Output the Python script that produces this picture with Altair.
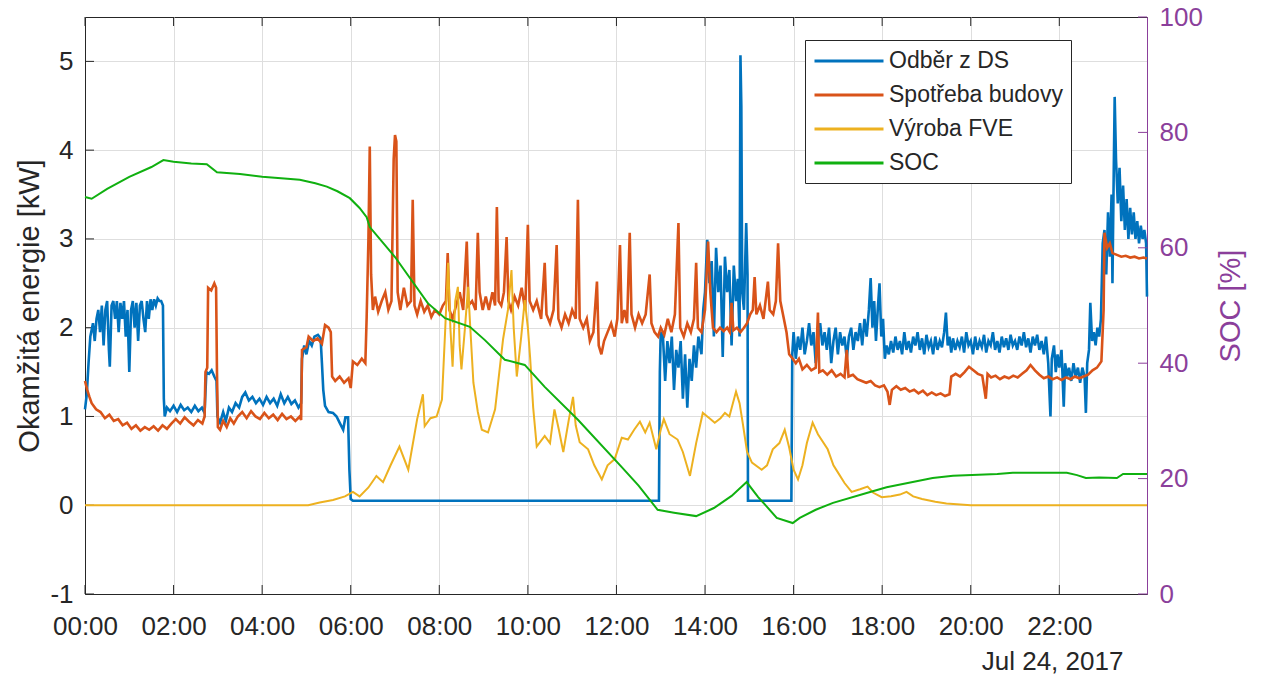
import altair as alt
import pandas as pd

FONT = "Liberation Sans"
DARK = "#262626"
PURPLE = "#8B3F9B"
GRID = "#DEDEDE"

series_names = ["Odběr z DS", "Spotřeba budovy", "Výroba FVE", "SOC"]
series_colors = ["#0072BD", "#D95319", "#EDB120", "#10B010"]

# (hour, kW)
odber = [
    (0.00, 1.08), (0.04, 1.25), (0.08, 1.60), (0.12, 1.90), (0.18, 2.05), (0.22, 1.85), (0.26, 2.10),
    (0.30, 2.20), (0.34, 1.95), (0.38, 2.25), (0.42, 1.80), (0.46, 2.20), (0.50, 2.30), (0.54, 1.75),
    (0.56, 1.56), (0.60, 2.25), (0.64, 2.30), (0.68, 2.10), (0.72, 2.30), (0.76, 1.95), (0.80, 2.28),
    (0.84, 2.10), (0.88, 2.30), (0.92, 1.90), (0.96, 2.20), (1.00, 1.50), (1.04, 2.20), (1.08, 2.30),
    (1.12, 2.00), (1.16, 2.28), (1.20, 1.85), (1.24, 2.25), (1.28, 2.30), (1.32, 2.10), (1.36, 1.95),
    (1.40, 2.30), (1.44, 2.10), (1.48, 2.32), (1.52, 2.20), (1.56, 2.32), (1.60, 2.25), (1.64, 2.33),
    (1.68, 2.30), (1.72, 2.30), (1.76, 2.25), (1.78, 1.20), (1.80, 1.00), (1.85, 1.10), (1.92, 1.06),
    (2.00, 1.12), (2.08, 1.05), (2.16, 1.13), (2.24, 1.07), (2.32, 1.10), (2.40, 1.05), (2.48, 1.12),
    (2.56, 1.06), (2.64, 1.10), (2.70, 1.04), (2.74, 1.50), (2.80, 1.48), (2.86, 1.52), (2.92, 1.45),
    (2.97, 1.40), (2.99, 1.00), (3.05, 0.93), (3.12, 1.05), (3.18, 0.95), (3.25, 1.10), (3.32, 1.05),
    (3.40, 1.15), (3.48, 1.10), (3.55, 1.22), (3.62, 1.27), (3.70, 1.18), (3.78, 1.22), (3.86, 1.15),
    (3.94, 1.20), (4.02, 1.13), (4.10, 1.22), (4.18, 1.15), (4.26, 1.20), (4.34, 1.12), (4.42, 1.25),
    (4.50, 1.15), (4.58, 1.22), (4.66, 1.14), (4.74, 1.18), (4.82, 1.10), (4.88, 1.15), (4.90, 1.65),
    (4.95, 1.80), (5.00, 1.70), (5.06, 1.85), (5.12, 1.80), (5.18, 1.90), (5.26, 1.92), (5.32, 1.88),
    (5.35, 1.60), (5.38, 1.30), (5.42, 1.12), (5.50, 1.05), (5.60, 1.04), (5.68, 1.00), (5.76, 0.92),
    (5.83, 0.85), (5.88, 0.99), (5.94, 0.99), (5.97, 0.40), (6.00, 0.07), (6.05, 0.05), (12.96, 0.05),
    (12.98, 1.50), (13.00, 1.95), (13.05, 1.90), (13.10, 1.40), (13.15, 1.85), (13.20, 1.60), (13.25, 1.90),
    (13.30, 1.30), (13.35, 1.75), (13.40, 1.55), (13.45, 1.85), (13.50, 1.20), (13.55, 1.70), (13.60, 1.10),
    (13.65, 1.65), (13.70, 1.40), (13.75, 1.80), (13.80, 1.55), (13.85, 1.90), (13.92, 1.70), (13.96, 2.20),
    (14.00, 2.40), (14.05, 2.99), (14.10, 2.50), (14.15, 2.75), (14.20, 1.90), (14.25, 2.90), (14.30, 2.40),
    (14.35, 2.70), (14.40, 1.67), (14.45, 2.80), (14.50, 2.40), (14.55, 2.65), (14.60, 1.80), (14.65, 2.70),
    (14.70, 2.30), (14.74, 2.55), (14.78, 1.90), (14.80, 5.07), (14.82, 4.50), (14.84, 2.40), (14.88, 2.20),
    (14.93, 3.18), (14.96, 2.60), (14.97, 0.05), (15.95, 0.05), (15.97, 1.70), (16.00, 1.95), (16.05, 1.65),
    (16.10, 1.90), (16.15, 1.75), (16.20, 2.00), (16.25, 1.70), (16.30, 1.85), (16.35, 2.05), (16.40, 1.80),
    (16.45, 1.95), (16.50, 1.60), (16.55, 1.85), (16.60, 2.05), (16.65, 1.80), (16.70, 1.95), (16.75, 1.75),
    (16.80, 2.00), (16.85, 1.60), (16.90, 1.85), (16.95, 2.00), (17.00, 1.70), (17.05, 1.95), (17.10, 1.80),
    (17.15, 1.90), (17.20, 1.65), (17.25, 1.90), (17.30, 2.00), (17.35, 1.75), (17.40, 1.95), (17.45, 1.85),
    (17.50, 2.05), (17.55, 1.80), (17.60, 2.10), (17.65, 1.90), (17.70, 2.20), (17.74, 2.56), (17.78, 2.00),
    (17.82, 2.30), (17.86, 1.85), (17.90, 2.20), (17.94, 2.50), (17.98, 1.90), (18.02, 2.10), (18.06, 1.65),
    (18.10, 1.80), (18.15, 1.70), (18.20, 1.85), (18.25, 1.72), (18.30, 1.90), (18.35, 1.75), (18.40, 1.85),
    (18.45, 1.70), (18.50, 1.95), (18.55, 1.75), (18.60, 1.85), (18.65, 1.72), (18.70, 1.90), (18.75, 1.80),
    (18.80, 1.95), (18.85, 1.75), (18.90, 1.88), (18.95, 1.70), (19.00, 1.92), (19.05, 1.78), (19.10, 1.85),
    (19.15, 1.70), (19.20, 1.90), (19.25, 1.75), (19.30, 1.85), (19.35, 1.78), (19.40, 1.95), (19.44, 2.17),
    (19.48, 1.80), (19.52, 1.90), (19.56, 1.72), (19.60, 1.88), (19.65, 1.75), (19.70, 1.85), (19.75, 1.78),
    (19.80, 1.90), (19.85, 1.72), (19.90, 1.95), (19.95, 1.80), (20.00, 1.85), (20.05, 1.70), (20.10, 1.90),
    (20.15, 1.75), (20.20, 1.85), (20.25, 1.78), (20.30, 1.92), (20.35, 1.72), (20.40, 1.85), (20.45, 1.80),
    (20.50, 1.95), (20.55, 1.75), (20.60, 1.85), (20.65, 1.72), (20.70, 1.90), (20.75, 1.78), (20.80, 1.88),
    (20.85, 1.75), (20.90, 1.92), (20.95, 1.80), (21.00, 1.85), (21.05, 1.75), (21.10, 1.90), (21.15, 1.80),
    (21.20, 1.95), (21.25, 1.78), (21.30, 1.88), (21.35, 1.72), (21.40, 1.90), (21.45, 1.80), (21.50, 1.92),
    (21.55, 1.75), (21.60, 1.85), (21.65, 1.70), (21.70, 1.90), (21.75, 1.60), (21.80, 1.00), (21.83, 1.65),
    (21.88, 1.80), (21.92, 1.50), (21.96, 1.70), (22.00, 1.55), (22.05, 1.75), (22.10, 1.11), (22.13, 1.60),
    (22.18, 1.45), (22.22, 1.55), (22.27, 1.40), (22.32, 1.60), (22.37, 1.45), (22.42, 1.55), (22.47, 1.38),
    (22.52, 1.55), (22.57, 1.45), (22.60, 1.04), (22.63, 1.60), (22.67, 1.75), (22.70, 2.28), (22.74, 1.85),
    (22.78, 1.95), (22.82, 1.80), (22.86, 2.00), (22.90, 1.90), (22.94, 2.10), (22.98, 2.95), (23.02, 3.10),
    (23.06, 2.60), (23.10, 3.30), (23.14, 2.80), (23.18, 3.50), (23.20, 2.50), (23.23, 3.80), (23.25, 4.60),
    (23.28, 3.90), (23.32, 3.40), (23.36, 3.80), (23.40, 3.20), (23.44, 3.60), (23.48, 3.10), (23.52, 3.45),
    (23.56, 3.00), (23.60, 3.35), (23.64, 3.05), (23.68, 3.30), (23.72, 3.00), (23.76, 3.20), (23.80, 2.95),
    (23.84, 3.15), (23.88, 3.00), (23.92, 3.10), (23.96, 2.95), (23.98, 2.35),
]

spotreba = [
    (0.00, 1.40), (0.05, 1.30), (0.10, 1.22), (0.15, 1.15), (0.25, 1.08), (0.35, 1.05), (0.45, 0.98),
    (0.55, 1.02), (0.65, 0.95), (0.75, 0.97), (0.85, 0.90), (0.95, 0.93), (1.05, 0.86), (1.15, 0.90),
    (1.25, 0.84), (1.35, 0.88), (1.45, 0.85), (1.55, 0.89), (1.65, 0.84), (1.75, 0.90), (1.85, 0.86),
    (1.95, 0.92), (2.05, 0.97), (2.15, 0.92), (2.25, 0.99), (2.35, 0.94), (2.45, 0.90), (2.55, 0.96),
    (2.65, 0.92), (2.70, 1.00), (2.72, 1.50), (2.76, 1.55), (2.78, 2.45), (2.85, 2.42), (2.92, 2.50),
    (2.96, 2.45), (2.98, 1.50), (3.00, 0.88), (3.05, 0.85), (3.12, 0.95), (3.20, 0.88), (3.28, 0.98),
    (3.36, 0.92), (3.45, 1.00), (3.55, 1.05), (3.65, 0.98), (3.75, 1.06), (3.85, 1.00), (3.95, 0.97),
    (4.05, 1.04), (4.15, 0.98), (4.25, 1.02), (4.35, 0.96), (4.45, 1.03), (4.55, 0.97), (4.65, 1.00),
    (4.75, 0.95), (4.85, 1.00), (4.88, 0.96), (4.90, 1.75), (5.00, 1.78), (5.05, 1.90), (5.15, 1.85),
    (5.25, 1.88), (5.35, 1.82), (5.42, 2.03), (5.50, 2.00), (5.55, 1.95), (5.58, 1.45), (5.65, 1.40),
    (5.75, 1.45), (5.85, 1.38), (5.95, 1.43), (6.00, 1.32), (6.05, 1.62), (6.15, 1.58), (6.25, 1.65),
    (6.33, 1.60), (6.36, 2.12), (6.40, 3.00), (6.43, 4.04), (6.46, 2.60), (6.50, 2.20), (6.55, 2.35),
    (6.62, 2.18), (6.70, 2.30), (6.78, 2.40), (6.85, 2.20), (6.92, 2.30), (6.97, 3.90), (7.00, 4.17),
    (7.03, 4.10), (7.06, 2.40), (7.12, 2.20), (7.20, 2.45), (7.28, 2.25), (7.36, 2.30), (7.40, 3.44),
    (7.44, 2.25), (7.50, 2.15), (7.58, 2.30), (7.66, 2.18), (7.74, 2.25), (7.82, 2.12), (7.90, 2.20),
    (8.00, 2.15), (8.08, 2.25), (8.15, 2.30), (8.19, 2.84), (8.23, 2.20), (8.30, 2.10), (8.38, 2.25),
    (8.46, 2.40), (8.54, 2.20), (8.62, 2.97), (8.66, 2.25), (8.74, 2.30), (8.82, 2.20), (8.87, 3.07),
    (8.91, 2.40), (8.98, 2.20), (9.05, 2.35), (9.12, 2.20), (9.20, 2.40), (9.26, 2.25), (9.30, 3.36),
    (9.34, 2.30), (9.40, 2.25), (9.46, 2.40), (9.52, 3.02), (9.56, 2.30), (9.62, 2.20), (9.70, 2.35),
    (9.78, 2.25), (9.86, 2.45), (9.94, 2.20), (10.00, 3.16), (10.04, 2.30), (10.12, 2.20), (10.20, 2.30),
    (10.30, 2.10), (10.38, 2.73), (10.42, 2.15), (10.50, 2.05), (10.58, 2.20), (10.65, 2.93), (10.69, 2.10),
    (10.76, 2.00), (10.84, 2.15), (10.92, 2.05), (11.00, 2.20), (11.08, 2.10), (11.13, 3.44), (11.17, 2.10),
    (11.25, 2.00), (11.33, 2.10), (11.40, 1.85), (11.48, 1.95), (11.56, 2.52), (11.60, 1.80), (11.66, 1.70),
    (11.72, 1.85), (11.80, 1.95), (11.88, 2.05), (11.96, 1.90), (12.02, 2.10), (12.08, 2.93), (12.12, 2.05),
    (12.18, 2.20), (12.24, 2.05), (12.30, 3.07), (12.34, 2.15), (12.42, 2.00), (12.50, 2.15), (12.58, 2.05),
    (12.66, 2.15), (12.75, 2.60), (12.79, 2.05), (12.86, 1.95), (12.94, 1.90), (13.00, 2.00), (13.08, 1.92),
    (13.16, 2.10), (13.24, 1.95), (13.32, 2.15), (13.40, 3.18), (13.44, 2.00), (13.52, 1.90), (13.60, 2.05),
    (13.68, 1.95), (13.75, 2.10), (13.80, 2.73), (13.84, 2.00), (13.92, 1.95), (14.00, 2.20), (14.07, 2.97),
    (14.12, 2.40), (14.18, 2.00), (14.26, 1.95), (14.34, 2.00), (14.42, 1.96), (14.50, 2.00), (14.56, 1.95),
    (14.60, 2.28), (14.64, 1.97), (14.72, 2.00), (14.80, 1.95), (14.88, 2.00), (14.95, 2.05), (15.02, 2.15),
    (15.08, 2.20), (15.12, 2.57), (15.16, 2.15), (15.24, 2.25), (15.32, 2.10), (15.42, 2.52), (15.46, 2.20),
    (15.54, 2.15), (15.60, 2.30), (15.65, 2.95), (15.70, 2.30), (15.78, 2.10), (15.84, 1.95), (15.90, 1.70),
    (15.98, 1.65), (16.05, 1.60), (16.12, 1.65), (16.20, 1.53), (16.30, 1.58), (16.40, 1.52), (16.50, 1.55),
    (16.55, 2.17), (16.58, 1.50), (16.66, 1.52), (16.76, 1.47), (16.86, 1.52), (16.96, 1.45), (17.06, 1.48),
    (17.15, 1.44), (17.20, 1.75), (17.24, 1.45), (17.34, 1.47), (17.44, 1.42), (17.54, 1.40), (17.64, 1.38),
    (17.74, 1.40), (17.84, 1.35), (17.94, 1.33), (18.04, 1.35), (18.12, 1.28), (18.17, 1.13), (18.22, 1.30),
    (18.32, 1.34), (18.42, 1.30), (18.52, 1.32), (18.62, 1.28), (18.72, 1.30), (18.82, 1.26), (18.92, 1.29),
    (19.02, 1.24), (19.12, 1.27), (19.22, 1.24), (19.32, 1.26), (19.42, 1.23), (19.52, 1.25), (19.56, 1.45),
    (19.66, 1.48), (19.76, 1.45), (19.86, 1.50), (19.96, 1.56), (20.06, 1.52), (20.16, 1.48), (20.26, 1.46),
    (20.34, 1.20), (20.38, 1.48), (20.46, 1.44), (20.56, 1.46), (20.66, 1.42), (20.76, 1.45), (20.86, 1.43),
    (20.96, 1.46), (21.06, 1.44), (21.16, 1.48), (21.26, 1.52), (21.35, 1.58), (21.45, 1.52), (21.55, 1.47),
    (21.65, 1.43), (21.75, 1.45), (21.85, 1.42), (21.95, 1.44), (22.05, 1.41), (22.15, 1.44), (22.25, 1.42),
    (22.35, 1.45), (22.45, 1.43), (22.55, 1.45), (22.65, 1.47), (22.75, 1.52), (22.85, 1.55), (22.95, 1.62),
    (23.00, 2.20), (23.02, 3.07), (23.08, 2.90), (23.14, 2.95), (23.20, 2.84), (23.30, 2.82), (23.40, 2.80),
    (23.50, 2.81), (23.60, 2.79), (23.70, 2.80), (23.80, 2.78), (23.90, 2.79), (23.98, 2.78),
]

vyroba = [
    (0.00, 0.00), (5.04, 0.00), (5.30, 0.03), (5.60, 0.06), (5.87, 0.10), (6.05, 0.15), (6.20, 0.10),
    (6.40, 0.20), (6.58, 0.33), (6.73, 0.26), (6.90, 0.45), (7.10, 0.66), (7.30, 0.40), (7.50, 0.97),
    (7.63, 1.25), (7.67, 0.89), (7.80, 0.98), (7.94, 1.00), (8.06, 1.19), (8.13, 1.94), (8.20, 2.73),
    (8.25, 2.00), (8.30, 1.56), (8.36, 2.30), (8.42, 2.46), (8.46, 1.80), (8.50, 1.53), (8.58, 2.00),
    (8.65, 2.46), (8.70, 2.00), (8.77, 1.38), (8.87, 1.05), (8.96, 0.85), (9.10, 0.82), (9.26, 1.08),
    (9.44, 1.87), (9.55, 2.20), (9.63, 2.65), (9.68, 2.00), (9.75, 1.45), (9.85, 1.90), (9.93, 2.31),
    (10.00, 2.00), (10.05, 1.67), (10.12, 1.10), (10.20, 0.66), (10.38, 0.78), (10.50, 0.70), (10.60, 1.08),
    (10.70, 0.85), (10.80, 0.60), (10.92, 0.95), (11.02, 1.22), (11.08, 0.90), (11.17, 0.71), (11.36, 0.63),
    (11.50, 0.45), (11.67, 0.29), (11.80, 0.45), (11.96, 0.52), (12.12, 0.76), (12.26, 0.74), (12.40, 0.85),
    (12.53, 0.94), (12.65, 0.82), (12.75, 0.93), (12.90, 0.63), (13.00, 0.85), (13.07, 0.97), (13.20, 0.80),
    (13.38, 0.74), (13.50, 0.60), (13.66, 0.33), (13.80, 0.70), (13.95, 1.04), (14.10, 0.98), (14.22, 0.93),
    (14.35, 0.98), (14.45, 1.04), (14.55, 1.00), (14.70, 1.28), (14.78, 1.15), (14.85, 0.93), (14.95, 0.60),
    (15.06, 0.48), (15.28, 0.40), (15.40, 0.45), (15.53, 0.63), (15.68, 0.70), (15.80, 0.85), (15.90, 0.65),
    (16.00, 0.40), (16.10, 0.29), (16.20, 0.45), (16.30, 0.70), (16.43, 0.93), (16.55, 0.80), (16.77, 0.63),
    (16.90, 0.45), (17.00, 0.37), (17.15, 0.25), (17.31, 0.15), (17.50, 0.18), (17.67, 0.21), (17.80, 0.14),
    (17.99, 0.09), (18.20, 0.10), (18.40, 0.12), (18.55, 0.15), (18.70, 0.10), (18.90, 0.07), (19.20, 0.04),
    (19.45, 0.02), (20.00, 0.00), (23.98, 0.00),
]

# (hour, SOC %)
soc = [
    (0.00, 68.8), (0.15, 68.5), (0.50, 70.2), (1.00, 72.3), (1.50, 74.0), (1.77, 75.2), (2.00, 74.9),
    (2.40, 74.6), (2.75, 74.5), (2.98, 73.1), (3.50, 72.8), (4.00, 72.3), (4.50, 72.0), (4.85, 71.8),
    (5.20, 71.2), (5.46, 70.6), (5.70, 69.8), (5.98, 68.6), (6.20, 66.9), (6.36, 65.3), (6.43, 63.6),
    (7.00, 58.4), (7.74, 50.4), (8.13, 47.8), (8.69, 46.3), (9.03, 44.0), (9.48, 40.6), (9.93, 39.7),
    (10.38, 35.9), (11.13, 30.2), (12.12, 22.0), (12.50, 18.8), (12.93, 14.6), (13.30, 14.1), (13.80, 13.5),
    (14.20, 14.9), (14.60, 17.0), (14.94, 19.4), (15.20, 16.8), (15.40, 15.1), (15.62, 13.2), (15.98, 12.3),
    (16.14, 13.2), (16.50, 14.6), (16.89, 15.8), (17.65, 17.5), (18.10, 18.5), (19.14, 20.1), (19.60, 20.5),
    (20.60, 20.8), (20.95, 21.0), (22.17, 21.0), (22.40, 20.6), (22.60, 20.1), (22.90, 20.2), (23.30, 20.1),
    (23.44, 20.8), (23.98, 20.8),
]

x_tick_values = [0, 2, 4, 6, 8, 10, 12, 14, 16, 18, 20, 22]
kw_tick_values = [-1, 0, 1, 2, 3, 4, 5]
soc_tick_values = [0, 20, 40, 60, 80, 100]

W, H = 1062, 577


def frame(pairs, name, col):
    return pd.DataFrame({"t": [p[0] for p in pairs], col: [p[1] for p in pairs], "series": name})


color = alt.Color(
    "series:N",
    scale=alt.Scale(domain=series_names, range=series_colors),
    sort=series_names,
    legend=alt.Legend(
        title=None, orient="none", legendX=720, legendY=23,
        symbolType="M-1,0H5", symbolSize=529, symbolStrokeWidth=3,
        labelFont=FONT, labelFontSize=23, labelColor=DARK, labelOffset=50,
        strokeColor=DARK, fillColor="white", padding=8, rowPadding=9,
        labelLimit=400,
    ),
)

x_enc = alt.X(
    "t:Q",
    scale=alt.Scale(domain=[0, 23.98], nice=False, zero=False),
    axis=alt.Axis(
        values=x_tick_values, title=None, ticks=False, grid=True, gridColor=GRID,
        labelExpr="(datum.value < 10 ? '0' : '') + datum.value + ':00'",
        labelFont=FONT, labelFontSize=26, labelColor=DARK, labelPadding=19,
        domainColor=DARK, labelFlush=False,
    ),
)

y_kw = alt.Y(
    "v:Q",
    scale=alt.Scale(domain=[-1, 5.5], nice=False, zero=False),
    axis=alt.Axis(
        values=kw_tick_values, title="Okamžitá energie [kW]", ticks=False, grid=True, gridColor=GRID,
        labelExpr="(datum.value < 0 ? '-' : '') + abs(datum.value)",
        labelFont=FONT, labelFontSize=26, labelColor=DARK, labelPadding=12,
        titleFont=FONT, titleFontSize=29, titleFontWeight="normal", titleColor=DARK, titlePadding=5,
        domainColor=DARK,
    ),
)

y_soc = alt.Y(
    "s:Q",
    scale=alt.Scale(domain=[0, 100], nice=False, zero=False),
    axis=alt.Axis(
        orient="right", values=soc_tick_values, title="SOC [%]", ticks=False, grid=False,
        labelFont=FONT, labelFontSize=26, labelColor=PURPLE, labelPadding=12,
        titleFont=FONT, titleFontSize=29, titleFontWeight="normal", titleColor=PURPLE,
        titleAngle=270, titleBaseline="top", titlePadding=14,
        domainColor=PURPLE,
    ),
)

blue = alt.Chart(frame(odber, series_names[0], "v")).mark_line(strokeWidth=2.6).encode(x=x_enc, y=y_kw, color=color)
orange = alt.Chart(frame(spotreba, series_names[1], "v")).mark_line(strokeWidth=2.6).encode(x=x_enc, y=y_kw, color=color)
yellow = alt.Chart(frame(vyroba, series_names[2], "v")).mark_line(strokeWidth=2.0).encode(x=x_enc, y=y_kw, color=color)

kw_ticks = alt.Chart(pd.DataFrame({"v": kw_tick_values})).mark_rule(color=DARK, strokeWidth=1).encode(
    y=y_kw, x=alt.value(0), x2=alt.value(9)
)
xt = pd.DataFrame({"t": x_tick_values})
top_ticks = alt.Chart(xt).mark_rule(color=DARK, strokeWidth=1).encode(x=x_enc, y=alt.value(0), y2=alt.value(9))
bottom_ticks = alt.Chart(xt).mark_rule(color=DARK, strokeWidth=1).encode(x=x_enc, y=alt.value(H), y2=alt.value(H - 9))

kw_group = alt.layer(kw_ticks, top_ticks, bottom_ticks, blue, orange, yellow)

green = alt.Chart(frame(soc, series_names[3], "s")).mark_line(strokeWidth=2.0).encode(x=x_enc, y=y_soc, color=color)
soc_ticks = alt.Chart(pd.DataFrame({"s": soc_tick_values})).mark_rule(color=PURPLE, strokeWidth=1).encode(
    y=y_soc, x=alt.value(W), x2=alt.value(W - 9)
)
soc_group = alt.layer(green, soc_ticks)

chart = (
    alt.layer(kw_group, soc_group)
    .resolve_scale(y="independent")
    .properties(
        width=W, height=H,
        autosize=alt.AutoSizeParams(type="none"),
        padding={"left": 85, "top": 17, "right": 120, "bottom": 83},
        background="white",
        title=alt.TitleParams(
            text="Jul 24, 2017", orient="bottom", anchor="end", fontSize=26, fontWeight="normal",
            font=FONT, color=DARK, offset=10, dx=-122,
        ),
    )
    .configure_view(stroke=DARK, strokeWidth=1)
)

chart.save("out.html", embed_options={"renderer": "svg", "actions": False})
